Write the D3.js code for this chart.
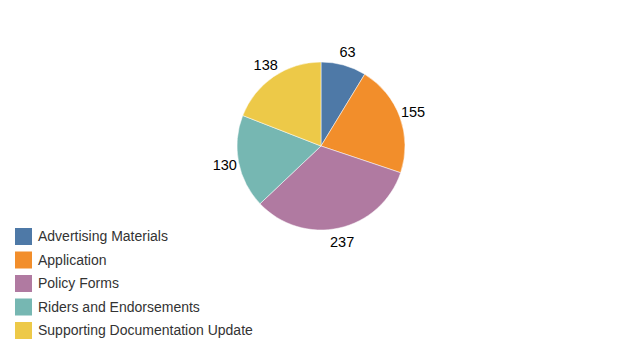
<!DOCTYPE html>
<html>
<head>
<meta charset="utf-8">
<script src="https://cdn.jsdelivr.net/npm/d3@7"></script>
<style>
  body { margin: 0; background: #fff; }
  text { font-family: "Liberation Sans", Arial, sans-serif; }
</style>
</head>
<body>
<div id="chart"></div>
<script>
const categories = ["Advertising Materials", "Application", "Policy Forms", "Riders and Endorsements", "Supporting Documentation Update"];
const values = [63, 155, 237, 130, 138];
const colors = ["#4e79a7", "#f28e2b", "#b07aa1", "#76b7b2", "#edc948"];

const width = 629, height = 339;
const cx = 321, cy = 146, radius = 84;

const svg = d3.select("#chart").append("svg")
    .attr("width", width)
    .attr("height", height);

const data = categories.map(function(c, i) { return { name: c, value: values[i], color: colors[i] }; });

const pie = d3.pie().sort(null).value(function(d) { return d.value; });
const arc = d3.arc().innerRadius(0).outerRadius(radius);
const labelArc = d3.arc().innerRadius(98).outerRadius(98);

const g = svg.append("g").attr("transform", "translate(" + cx + "," + cy + ")");

const arcs = pie(data);

g.selectAll("path")
    .data(arcs)
    .enter()
    .append("path")
    .attr("d", arc)
    .attr("fill", function(d) { return d.data.color; })
    .attr("stroke", "#fff")
    .attr("stroke-width", 0.5);

// value labels just outside the slices
g.selectAll("text.lbl")
    .data(arcs)
    .enter()
    .append("text")
    .attr("class", "lbl")
    .attr("transform", function(d) { return "translate(" + labelArc.centroid(d) + ")"; })
    .attr("text-anchor", "middle")
    .attr("dy", "0.35em")
    .attr("font-size", 14.5)
    .attr("fill", "#000")
    .text(function(d) { return d.data.value; });

// legend
const legend = svg.append("g").attr("transform", "translate(15,228)");
const rows = legend.selectAll("g")
    .data(data)
    .enter()
    .append("g")
    .attr("transform", function(d, i) { return "translate(0," + (i * 23.5) + ")"; });

rows.append("rect")
    .attr("width", 17)
    .attr("height", 17)
    .attr("fill", function(d) { return d.color; });

rows.append("text")
    .attr("x", 23)
    .attr("y", 8.5)
    .attr("dy", "0.35em")
    .attr("font-size", 14)
    .attr("fill", "#333")
    .text(function(d) { return d.name; });
</script>
</body>
</html>
